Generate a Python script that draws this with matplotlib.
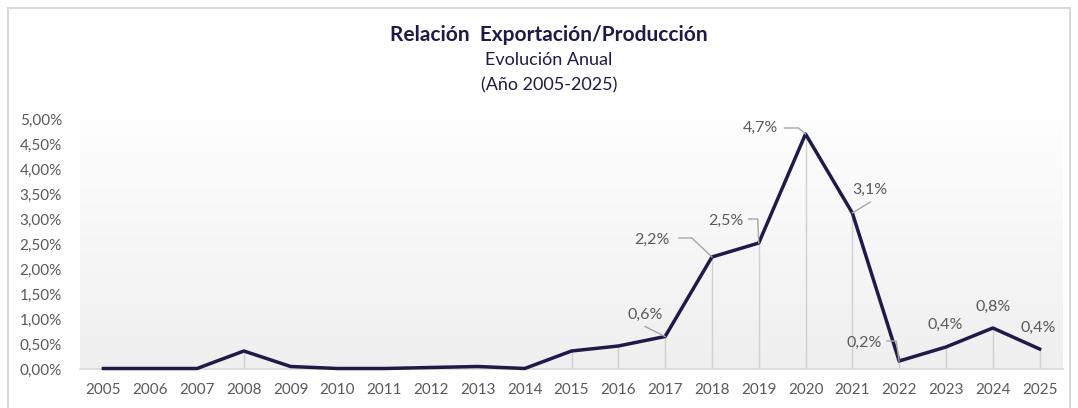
import matplotlib
matplotlib.use("Agg")
import matplotlib.pyplot as plt
import numpy as np
from matplotlib.patches import Rectangle
from matplotlib.lines import Line2D
from matplotlib.transforms import IdentityTransform
from matplotlib.colors import LinearSegmentedColormap

years = [str(y) for y in range(2005, 2026)]
ratio = [0.01, 0.01, 0.01, 0.36, 0.05, 0.01, 0.01, 0.03, 0.05, 0.01,
         0.36, 0.46, 0.65, 2.24, 2.52, 4.70, 3.12, 0.16, 0.44, 0.82, 0.40]
yticks = [0, 0.5, 1.0, 1.5, 2.0, 2.5, 3.0, 3.5, 4.0, 4.5, 5.0]
ytick_labels = ["0,00%", "0,50%", "1,00%", "1,50%", "2,00%", "2,50%", "3,00%",
                "3,50%", "4,00%", "4,50%", "5,00%"]
label_idx = [12, 13, 14, 15, 16, 17, 18, 19, 20]
label_txt = ["0,6%", "2,2%", "2,5%", "4,7%", "3,1%", "0,2%", "0,4%", "0,8%", "0,4%"]
# label offsets in pixels (dx right, dy up)
label_off = [(-20, 22), (-60, 17), (-33, 22), (-45, 6), (17, 23), (-35, 18), (-1, 22), (0, 21), (-1, 21)]
# leader line vertices in pixel offsets from the point (dx, dy up)
leaders = [[(-20, 10), (0, 0)],
           [(-33, 19), (-20, 19), (0, 0)],
           [(-10, 24), (-1, 24), (0, 0)],
           [(-21, 6), (-7, 6), (0, 0)],
           [(18, 11), (0, 0)],
           [(-12, 20), (-3, 20), (0, 0)],
           None, None, None]

FONT = "Lato"
W, H = 1078, 408
fig = plt.figure(figsize=(W / 100, H / 100), dpi=100)
fig.patch.set_facecolor("white")

fig.add_artist(Rectangle((8 / W, -0.01), (1070 - 8) / W, (H - 8) / H + 0.01,
                         transform=fig.transFigure, fill=False,
                         edgecolor="#d9d9d9", linewidth=1.5))

ax = fig.add_axes([80 / W, 1 - 369 / H, (1063 - 80) / W, (369 - 119) / H])
x = np.arange(len(years))

grad = np.linspace(0, 1, 256).reshape(-1, 1)
cmap = LinearSegmentedColormap.from_list("g", ["#efefef", "#ffffff"])
ax.imshow(grad, extent=[-0.5, 20.5, 0, 5.3], origin="lower", aspect="auto",
          cmap=cmap, zorder=0)

ax.set_xlim(-0.5, len(years) - 0.5)
ax.set_ylim(0, 5.0)
ax.set_facecolor("none")

ax.vlines(x, 0, ratio, color="#d0d0d0", linewidth=1.0, zorder=1)
ax.plot(x, ratio, color="#1e1b48", linewidth=2.5, solid_joinstyle="round", zorder=3,
        clip_on=False)

for s in ["top", "right", "left"]:
    ax.spines[s].set_visible(False)
ax.spines["bottom"].set_color("#d9d9d9")
ax.spines["bottom"].set_linewidth(1.2)

ax.set_yticks(yticks)
ax.set_yticklabels(ytick_labels)
ax.set_xticks(x)
ax.set_xticklabels(years)
ax.tick_params(axis="both", length=0, labelcolor="#595959", labelsize=11)
ax.tick_params(axis="y", pad=13)
ax.tick_params(axis="x", pad=10)
for lab in ax.get_xticklabels() + ax.get_yticklabels():
    lab.set_fontfamily(FONT)

for i, t, (dx, dy), ld in zip(label_idx, label_txt, label_off, leaders):
    ax.annotate(t, xy=(x[i], ratio[i]), xytext=(dx, dy), textcoords="offset pixels",
                ha="center", va="center", fontsize=11.5, color="#595959",
                fontfamily=FONT, zorder=4)
    if ld:
        px, py = ax.transData.transform((x[i], ratio[i]))
        xs = [px + a for a, b in ld]
        ys = [py + b for a, b in ld]
        fig.add_artist(Line2D(xs, ys, transform=IdentityTransform(), color="#a6a6a6",
                              linewidth=1.0, zorder=2))

fig.text(549 / W, 1 - 35 / H, "Relación  Exportación/Producción", ha="center", va="center",
         fontsize=15, fontweight="bold", color="#1e1b48", fontfamily=FONT)
fig.text(549 / W, 1 - 60 / H, "Evolución Anual", ha="center", va="center",
         fontsize=13, color="#1e1b48", fontfamily=FONT)
fig.text(549 / W, 1 - 85 / H, "(Año 2005-2025)", ha="center", va="center",
         fontsize=13, color="#1e1b48", fontfamily=FONT)

fig.savefig("out.png", dpi=100)
